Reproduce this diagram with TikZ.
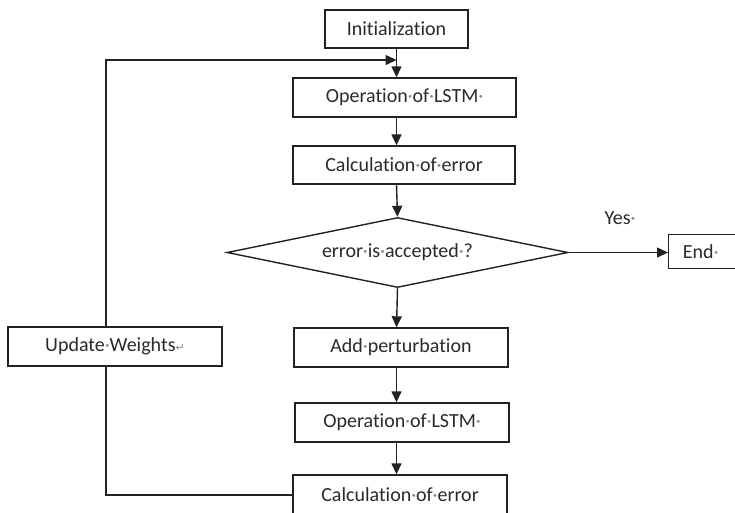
\documentclass[tikz,border=0pt]{standalone}
\usepackage{fontspec}
\setmainfont{Carlito}[Ligatures=NoCommon]
\newfontfamily\symfont{DejaVu Sans}
\usetikzlibrary{shapes.geometric,arrows.meta}
% Word-style formatting marks
\newcommand\wdot{\makebox[0.24em]{\textcolor{black!45}{·}}}
\newcommand\parmark{\textcolor{black!45}{\symfont\fontsize{11}{11}\selectfont ↵}}
\definecolor{ink}{HTML}{222222}
\definecolor{txt}{HTML}{2A2A2A}
\tikzset{
  box/.style={draw=ink, line width=1.4pt, rectangle, inner sep=0pt,
    font=\fontsize{20}{20}\selectfont, text=txt},
  decision/.style={draw=ink, line width=1.4pt, diamond, inner sep=0pt,
    aspect=4.87, font=\fontsize{20}{20}\selectfont, text=txt},
  wire/.style={draw=ink, line width=1.4pt},
  arr/.style={wire, -{Triangle[length=11pt,width=10pt]}},
}
\begin{document}
\begin{tikzpicture}[x=1pt,y=-1pt]
\useasboundingbox (0,0) rectangle (735,512);
\clip (0,0) rectangle (735,512);
\fill[white] (0,0) rectangle (735,512);

% main column
\node[box, minimum width=143pt, minimum height=38pt] (init) at (396.5,29) {Initialization};
\node[box, minimum width=223pt, minimum height=39pt] (op1) at (404.5,97.5) {Operation\wdot of\wdot LSTM\wdot};
\node[box, minimum width=222pt, minimum height=38pt] (calc1) at (404,165) {Calculation\wdot of\wdot error};
\node[decision, minimum width=341pt, minimum height=70pt] (dec) at (397.5,252.5) {error\wdot is\wdot accepted\wdot ?};
\node[box, minimum width=80pt, minimum height=34pt, anchor=west] (end) at (668,251.5) {\hspace*{-16pt}End\wdot};
\node[font=\fontsize{20}{20}\selectfont, text=txt] (yes) at (620,218) {Yes\wdot};
\node[box, minimum width=214pt, minimum height=39pt] (add) at (401,347.5) {Add\wdot perturbation};
\node[box, minimum width=214pt, minimum height=39pt] (op2) at (402,422.5) {Operation\wdot of\wdot LSTM\wdot};
\node[box, minimum width=214pt, minimum height=40pt] (calc2) at (400,495) {Calculation\wdot of\wdot error};

% feedback column
\node[box, minimum width=214pt, minimum height=39pt] (upd) at (115,346.5) {Update\wdot Weights\parmark};

\coordinate (spine) at (396.5,0);
\coordinate (loopx) at (106,0);
\coordinate (fb) at (396.5,60);

% forward flow
\draw[arr] (init.south -| spine) -- (op1.north -| spine);
\draw[arr] (op1.south -| spine) -- (calc1.north -| spine);
\draw[arr] (calc1.south -| spine) -- (dec.north);
\draw[arr] (dec.east) -- (end.west |- dec.east);
\draw[arr] (dec.south) -- (add.north -| spine);
\draw[arr] (add.south -| spine) -- (op2.north -| spine);
\draw[arr] (op2.south -| spine) -- (calc2.north -| spine);

% loop back through the weight update
\draw[wire] (calc2.west) -- (calc2.west -| loopx) -- (upd.south -| loopx);
\draw[arr] (upd.north -| loopx) -- (loopx |- fb) -- (fb);
\end{tikzpicture}
\end{document}
